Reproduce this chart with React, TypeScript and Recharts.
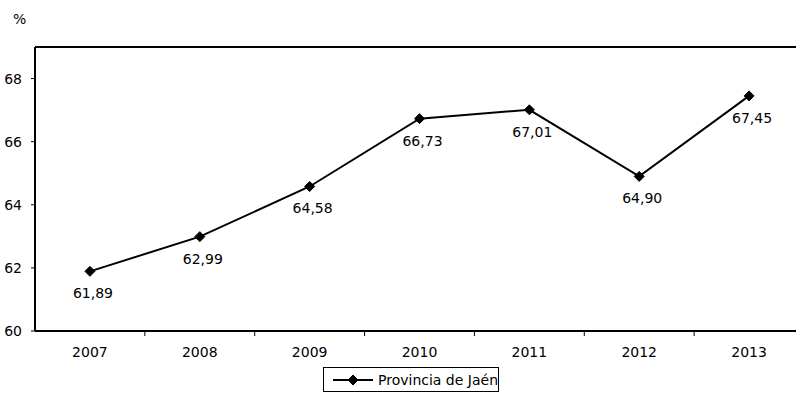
import React from 'react';
import { LineChart, Line, XAxis, YAxis, ReferenceLine, LabelList } from 'recharts';

const years = ['2007', '2008', '2009', '2010', '2011', '2012', '2013'];
const values = [61.89, 62.99, 64.58, 66.73, 67.01, 64.9, 67.45];
const yTicks = [60, 62, 64, 66, 68];
const yDomain: [number, number] = [60, 69];
const seriesName = 'Provincia de Jaén';
const unitLabel = '%';

const FONT = '"DejaVu Sans", Verdana, sans-serif';

const data = years.map((year, i) => ({ x: i, year, value: values[i] }));

// labels at category centres, tick marks between categories
const xTicks = [...years.map((_, i) => i), ...years.slice(1).map((_, i) => i + 0.5)];

const fmt = (v: number) => v.toFixed(2).replace('.', ',');

const XTick = (props: any) => {
  const { x, y, payload } = props;
  if (Number.isInteger(payload.value)) {
    return (
      <text x={x} y={y + 21} textAnchor="middle" dominantBaseline="central" fontSize={14} fill="#000" fontFamily={FONT}>
        {years[payload.value]}
      </text>
    );
  }
  return <line x1={x} x2={x} y1={y} y2={y + 5} stroke="#000" strokeWidth={1} />;
};

const Diamond = ({ cx, cy, r = 5 }: { cx: number; cy: number; r?: number }) => (
  <polygon points={`${cx},${cy - r} ${cx + r},${cy} ${cx},${cy + r} ${cx - r},${cy}`} fill="#000" stroke="#000" />
);

const PointLabel = (props: any) => {
  const { x, y, value } = props;
  return (
    <text x={x + 3} y={y + 22} textAnchor="middle" dominantBaseline="central" fontSize={14} fill="#000" fontFamily={FONT}>
      {fmt(value)}
    </text>
  );
};

export default function App() {
  return (
    <div style={{ position: 'fixed', left: 0, top: 0, width: 796, height: 401, overflow: 'hidden', background: '#fff', fontFamily: FONT }}>
      <div style={{ position: 'absolute', left: 13, top: 11, fontSize: 14, color: '#000' }}>{unitLabel}</div>

      <LineChart width={804} height={401} data={data} margin={{ top: 47, right: 0, left: 0, bottom: 30 }}>
        <XAxis
          dataKey="x"
          type="number"
          domain={[-0.5, years.length - 0.5]}
          ticks={xTicks}
          interval={0}
          height={40}
          tickSize={0}
          tickMargin={0}
          tickLine={false}
          tick={<XTick />}
          axisLine={{ stroke: '#000', strokeWidth: 2 }}
        />
        <YAxis
          domain={yDomain}
          ticks={yTicks}
          width={35}
          tickSize={4}
          tickMargin={9}
          interval={0}
          axisLine={{ stroke: '#000', strokeWidth: 2 }}
          tickLine={{ stroke: '#000' }}
          tick={{ fontSize: 14, fill: '#000', fontFamily: FONT }}
        />
        <ReferenceLine y={yDomain[1]} stroke="#000" strokeWidth={2} />
        <Line
          type="linear"
          dataKey="value"
          name={seriesName}
          stroke="#000"
          strokeWidth={2}
          dot={(p: any) => <Diamond key={p.index} cx={p.cx} cy={p.cy} />}
          activeDot={false}
          isAnimationActive={false}
        >
          <LabelList dataKey="value" content={<PointLabel />} />
        </Line>
      </LineChart>

      <div
        style={{
          position: 'absolute',
          left: 323,
          top: 367,
          width: 176,
          height: 25,
          boxSizing: 'border-box',
          border: '1px solid #000',
          display: 'flex',
          alignItems: 'center',
          fontSize: 14,
          color: '#000',
          whiteSpace: 'nowrap',
        }}
      >
        <svg width={50} height={14} style={{ marginLeft: 8, flex: 'none' }}>
          <line x1={1} x2={41} y1={7} y2={7} stroke="#000" strokeWidth={2} />
          <Diamond cx={21} cy={7} />
        </svg>
        <span style={{ marginLeft: -4 }}>{seriesName}</span>
      </div>
    </div>
  );
}
